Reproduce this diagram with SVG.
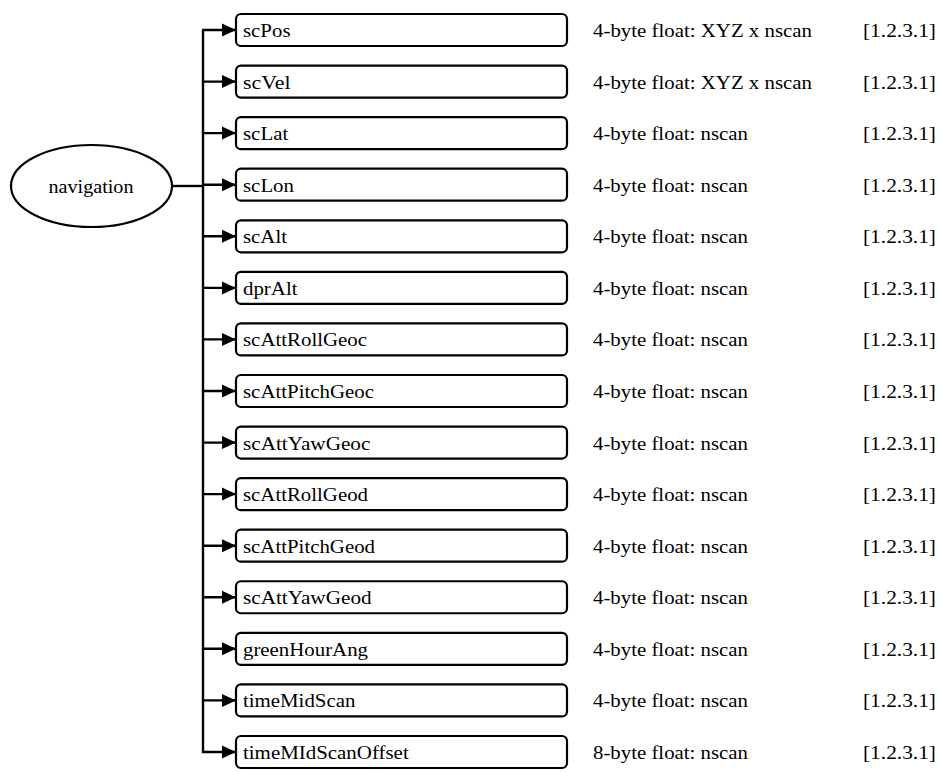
<svg xmlns="http://www.w3.org/2000/svg" width="941" height="772" viewBox="0 0 941 772">
<style>
.box{fill:#fff;stroke:#000;stroke-width:2.2}
.t{font-family:"Liberation Serif","Times New Roman",serif;font-size:18px;fill:#000}
.c{fill:none;stroke:#000;stroke-width:2.4}
</style>
<defs>
<marker id="ah" markerUnits="userSpaceOnUse" markerWidth="15" markerHeight="14" refX="14" refY="7" orient="auto">
<path d="M0,0.5 L14,7 L0,13.5 Z" fill="#000"/>
</marker>
</defs>
<rect width="941" height="772" fill="#fff"/>
<g id="connectors">
<path class="c" d="M172,186 H203"/>
<path class="c" d="M203,30 V753"/>
<path class="c" d="M202,30 H236" marker-end="url(#ah)"/>
<path class="c" d="M202,81.6 H236" marker-end="url(#ah)"/>
<path class="c" d="M202,133.1 H236" marker-end="url(#ah)"/>
<path class="c" d="M202,184.7 H236" marker-end="url(#ah)"/>
<path class="c" d="M202,236.3 H236" marker-end="url(#ah)"/>
<path class="c" d="M202,287.9 H236" marker-end="url(#ah)"/>
<path class="c" d="M202,339.4 H236" marker-end="url(#ah)"/>
<path class="c" d="M202,391 H236" marker-end="url(#ah)"/>
<path class="c" d="M202,442.6 H236" marker-end="url(#ah)"/>
<path class="c" d="M202,494.1 H236" marker-end="url(#ah)"/>
<path class="c" d="M202,545.7 H236" marker-end="url(#ah)"/>
<path class="c" d="M202,597.3 H236" marker-end="url(#ah)"/>
<path class="c" d="M202,648.8 H236" marker-end="url(#ah)"/>
<path class="c" d="M202,700.4 H236" marker-end="url(#ah)"/>
<path class="c" d="M202,752 H236" marker-end="url(#ah)"/>
</g>
<g id="navigation">
<ellipse cx="91.5" cy="186" rx="80.5" ry="41" fill="#fff" stroke="#000" stroke-width="2.2"/>
<text class="t" x="48.5" y="192.5" textLength="85" lengthAdjust="spacingAndGlyphs">navigation</text>
</g>
<g id="scPos" transform="translate(0,0)">
<rect class="box" x="236" y="14" width="331" height="32" rx="5"/>
<text class="t" x="243" y="37" textLength="47.5" lengthAdjust="spacingAndGlyphs">scPos</text>
<text class="t" x="593" y="37" textLength="219" lengthAdjust="spacingAndGlyphs">4-byte float: XYZ x nscan</text>
<text class="t" x="863" y="37" textLength="73" lengthAdjust="spacingAndGlyphs">[1.2.3.1]</text>
</g>
<g id="scVel" transform="translate(0,51.57)">
<rect class="box" x="236" y="14" width="331" height="32" rx="5"/>
<text class="t" x="243" y="37" textLength="47.5" lengthAdjust="spacingAndGlyphs">scVel</text>
<text class="t" x="593" y="37" textLength="219" lengthAdjust="spacingAndGlyphs">4-byte float: XYZ x nscan</text>
<text class="t" x="863" y="37" textLength="73" lengthAdjust="spacingAndGlyphs">[1.2.3.1]</text>
</g>
<g id="scLat" transform="translate(0,103.14)">
<rect class="box" x="236" y="14" width="331" height="32" rx="5"/>
<text class="t" x="243" y="37" textLength="45.2" lengthAdjust="spacingAndGlyphs">scLat</text>
<text class="t" x="593" y="37" textLength="155" lengthAdjust="spacingAndGlyphs">4-byte float: nscan</text>
<text class="t" x="863" y="37" textLength="73" lengthAdjust="spacingAndGlyphs">[1.2.3.1]</text>
</g>
<g id="scLon" transform="translate(0,154.71)">
<rect class="box" x="236" y="14" width="331" height="32" rx="5"/>
<text class="t" x="243" y="37" textLength="51" lengthAdjust="spacingAndGlyphs">scLon</text>
<text class="t" x="593" y="37" textLength="155" lengthAdjust="spacingAndGlyphs">4-byte float: nscan</text>
<text class="t" x="863" y="37" textLength="73" lengthAdjust="spacingAndGlyphs">[1.2.3.1]</text>
</g>
<g id="scAlt" transform="translate(0,206.28)">
<rect class="box" x="236" y="14" width="331" height="32" rx="5"/>
<text class="t" x="243" y="37" textLength="44" lengthAdjust="spacingAndGlyphs">scAlt</text>
<text class="t" x="593" y="37" textLength="155" lengthAdjust="spacingAndGlyphs">4-byte float: nscan</text>
<text class="t" x="863" y="37" textLength="73" lengthAdjust="spacingAndGlyphs">[1.2.3.1]</text>
</g>
<g id="dprAlt" transform="translate(0,257.85)">
<rect class="box" x="236" y="14" width="331" height="32" rx="5"/>
<text class="t" x="243" y="37" textLength="54.5" lengthAdjust="spacingAndGlyphs">dprAlt</text>
<text class="t" x="593" y="37" textLength="155" lengthAdjust="spacingAndGlyphs">4-byte float: nscan</text>
<text class="t" x="863" y="37" textLength="73" lengthAdjust="spacingAndGlyphs">[1.2.3.1]</text>
</g>
<g id="scAttRollGeoc" transform="translate(0,309.42)">
<rect class="box" x="236" y="14" width="331" height="32" rx="5"/>
<text class="t" x="243" y="37" textLength="124" lengthAdjust="spacingAndGlyphs">scAttRollGeoc</text>
<text class="t" x="593" y="37" textLength="155" lengthAdjust="spacingAndGlyphs">4-byte float: nscan</text>
<text class="t" x="863" y="37" textLength="73" lengthAdjust="spacingAndGlyphs">[1.2.3.1]</text>
</g>
<g id="scAttPitchGeoc" transform="translate(0,360.99)">
<rect class="box" x="236" y="14" width="331" height="32" rx="5"/>
<text class="t" x="243" y="37" textLength="131" lengthAdjust="spacingAndGlyphs">scAttPitchGeoc</text>
<text class="t" x="593" y="37" textLength="155" lengthAdjust="spacingAndGlyphs">4-byte float: nscan</text>
<text class="t" x="863" y="37" textLength="73" lengthAdjust="spacingAndGlyphs">[1.2.3.1]</text>
</g>
<g id="scAttYawGeoc" transform="translate(0,412.56)">
<rect class="box" x="236" y="14" width="331" height="32" rx="5"/>
<text class="t" x="243" y="37" textLength="127.4" lengthAdjust="spacingAndGlyphs">scAttYawGeoc</text>
<text class="t" x="593" y="37" textLength="155" lengthAdjust="spacingAndGlyphs">4-byte float: nscan</text>
<text class="t" x="863" y="37" textLength="73" lengthAdjust="spacingAndGlyphs">[1.2.3.1]</text>
</g>
<g id="scAttRollGeod" transform="translate(0,464.13)">
<rect class="box" x="236" y="14" width="331" height="32" rx="5"/>
<text class="t" x="243" y="37" textLength="125" lengthAdjust="spacingAndGlyphs">scAttRollGeod</text>
<text class="t" x="593" y="37" textLength="155" lengthAdjust="spacingAndGlyphs">4-byte float: nscan</text>
<text class="t" x="863" y="37" textLength="73" lengthAdjust="spacingAndGlyphs">[1.2.3.1]</text>
</g>
<g id="scAttPitchGeod" transform="translate(0,515.7)">
<rect class="box" x="236" y="14" width="331" height="32" rx="5"/>
<text class="t" x="243" y="37" textLength="132" lengthAdjust="spacingAndGlyphs">scAttPitchGeod</text>
<text class="t" x="593" y="37" textLength="155" lengthAdjust="spacingAndGlyphs">4-byte float: nscan</text>
<text class="t" x="863" y="37" textLength="73" lengthAdjust="spacingAndGlyphs">[1.2.3.1]</text>
</g>
<g id="scAttYawGeod" transform="translate(0,567.27)">
<rect class="box" x="236" y="14" width="331" height="32" rx="5"/>
<text class="t" x="243" y="37" textLength="128.6" lengthAdjust="spacingAndGlyphs">scAttYawGeod</text>
<text class="t" x="593" y="37" textLength="155" lengthAdjust="spacingAndGlyphs">4-byte float: nscan</text>
<text class="t" x="863" y="37" textLength="73" lengthAdjust="spacingAndGlyphs">[1.2.3.1]</text>
</g>
<g id="greenHourAng" transform="translate(0,618.84)">
<rect class="box" x="236" y="14" width="331" height="32" rx="5"/>
<text class="t" x="243" y="37" textLength="125" lengthAdjust="spacingAndGlyphs">greenHourAng</text>
<text class="t" x="593" y="37" textLength="155" lengthAdjust="spacingAndGlyphs">4-byte float: nscan</text>
<text class="t" x="863" y="37" textLength="73" lengthAdjust="spacingAndGlyphs">[1.2.3.1]</text>
</g>
<g id="timeMidScan" transform="translate(0,670.41)">
<rect class="box" x="236" y="14" width="331" height="32" rx="5"/>
<text class="t" x="243" y="37" textLength="112.4" lengthAdjust="spacingAndGlyphs">timeMidScan</text>
<text class="t" x="593" y="37" textLength="155" lengthAdjust="spacingAndGlyphs">4-byte float: nscan</text>
<text class="t" x="863" y="37" textLength="73" lengthAdjust="spacingAndGlyphs">[1.2.3.1]</text>
</g>
<g id="timeMIdScanOffset" transform="translate(0,721.98)">
<rect class="box" x="236" y="14" width="331" height="32" rx="5"/>
<text class="t" x="243" y="37" textLength="165.7" lengthAdjust="spacingAndGlyphs">timeMIdScanOffset</text>
<text class="t" x="593" y="37" textLength="155" lengthAdjust="spacingAndGlyphs">8-byte float: nscan</text>
<text class="t" x="863" y="37" textLength="73" lengthAdjust="spacingAndGlyphs">[1.2.3.1]</text>
</g>
</svg>
